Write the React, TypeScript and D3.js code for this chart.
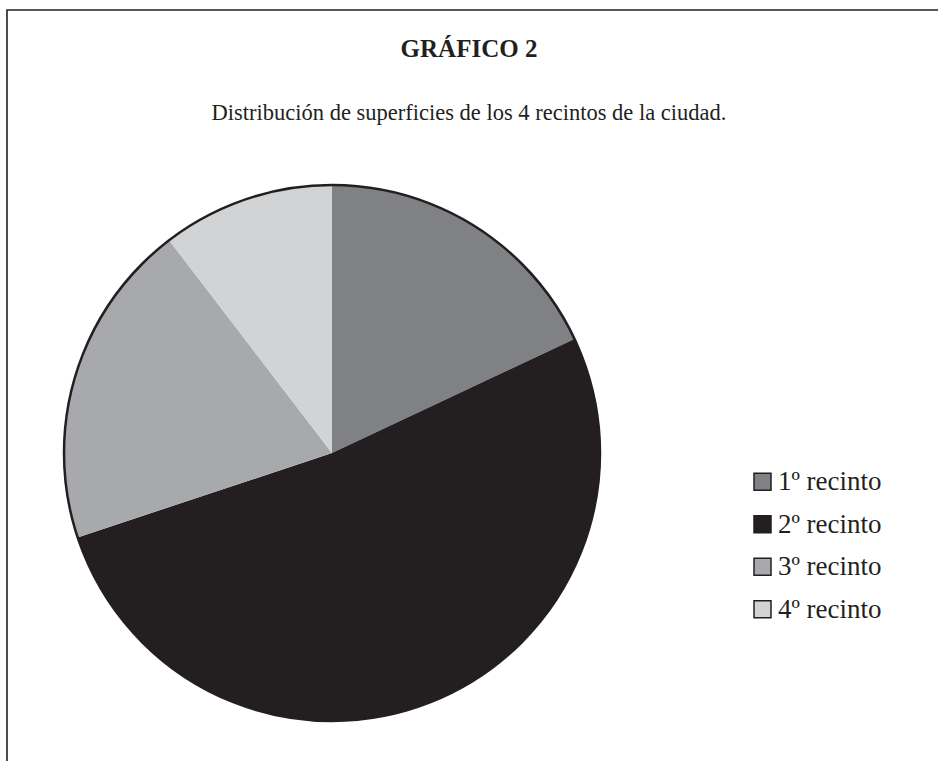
import * as d3 from "d3";

const CATEGORIES = ["1º recinto", "2º recinto", "3º recinto", "4º recinto"];
const VALUES = [18.0, 51.9, 19.7, 10.4];
const COLORS = ["#808184", "#231f20", "#a7a9ac", "#d1d3d4"];

const TITLE = "GRÁFICO 2";
const SUBTITLE = "Distribución de superficies de los 4 recintos de la ciudad.";

const W = 938;
const H = 761;
const FONT = "'Liberation Serif', 'DejaVu Serif', serif";

export default function App() {
  const cx = 332;
  const cy = 453;
  const r = 268;

  const pie = d3.pie<number>().sort(null).value((d) => d);
  const arcs = pie(VALUES);
  const arc = d3.arc<d3.PieArcDatum<number>>().innerRadius(0).outerRadius(r);

  const legend = d3.scaleBand<string>().domain(CATEGORIES).range([462, 632]);

  return (
    <svg
      width={W}
      height={H}
      style={{ position: "absolute", left: 0, top: 0, background: "#fff" }}
    >
      {/* frame, runs off the bottom and right */}
      <path d={`M7,${H + 5} V10 H${W + 5}`} fill="none" stroke="#231f20" strokeWidth={1.6} />

      <text x={469} y={57} textAnchor="middle" fontFamily={FONT} fontWeight="bold" fontSize={25} fill="#231f20">
        {TITLE}
      </text>
      <text x={469} y={120} textAnchor="middle" fontFamily={FONT} fontSize={22.5} fill="#231f20">
        {SUBTITLE}
      </text>

      <g transform={`translate(${cx},${cy})`}>
        {arcs.map((a, i) => (
          <path key={i} d={arc(a) ?? ""} fill={COLORS[i]} />
        ))}
        <circle r={r} fill="none" stroke="#231f20" strokeWidth={2.5} />
      </g>

      {CATEGORIES.map((c, i) => {
        const y = legend(c)! + legend.bandwidth() / 2;
        return (
          <g key={c}>
            <rect x={754} y={y - 10} width={17} height={17} fill={COLORS[i]} stroke="#231f20" strokeWidth={1.5} />
            <text x={778} y={y + 7} fontFamily={FONT} fontSize={27} fill="#231f20">
              {c}
            </text>
          </g>
        );
      })}
    </svg>
  );
}
